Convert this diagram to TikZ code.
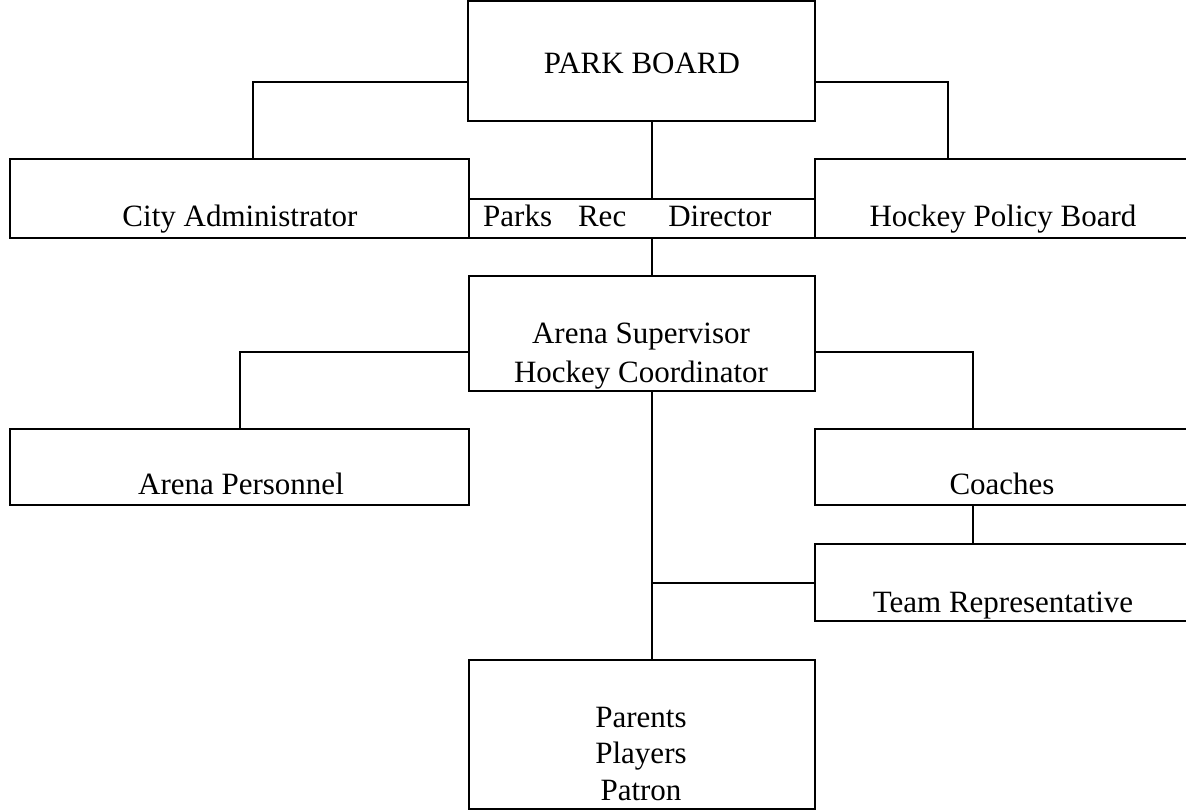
\documentclass[tikz,border=0pt]{standalone}
\usepackage{fontspec}
\setmainfont{Liberation Serif}
\begin{document}
\begin{tikzpicture}[x=1pt,y=-1pt,
  box/.style={draw=black,line width=2pt,inner sep=0pt,rectangle},
  conn/.style={draw=black,line width=2pt},
  txt/.style={inner sep=0pt,font=\fontsize{31}{37}\selectfont}]
\useasboundingbox (0,0) rectangle (1186,810);
\clip (0,0) rectangle (1186,810);
% boxes
\node[box,minimum width=347pt,minimum height=120pt] (pb) at (641.5,61) {};
\node[box,minimum width=459pt,minimum height=79pt] (ca) at (239.5,198.5) {};
\node[box,minimum width=346pt,minimum height=39pt] (pr) at (642,218.5) {};
\node[box,minimum width=380pt,minimum height=79pt] (hpb) at (1005,198.5) {};
\node[box,minimum width=346pt,minimum height=115pt] (as) at (642,333.5) {};
\node[box,minimum width=459pt,minimum height=76pt] (ap) at (239.5,467) {};
\node[box,minimum width=380pt,minimum height=76pt] (co) at (1005,467) {};
\node[box,minimum width=380pt,minimum height=77pt] (tr) at (1005,582.5) {};
\node[box,minimum width=346pt,minimum height=149pt] (pa) at (642,734.5) {};
% texts
\node[txt,anchor=base] (tpb) at (642,74) {PARK BOARD};
\node[txt,anchor=base] (tca) at (240,227) {City Administrator};
\node[txt,anchor=base west] (tpr) at (483,227) {Parks\hspace{26pt}Rec\hspace{42pt}Director};
\node[txt,anchor=base] (thpb) at (1003,227) {Hockey Policy Board};
\node[txt,anchor=base] (tas1) at (641,343) {Arena Supervisor};
\node[txt,anchor=base] (tas2) at (641,382) {Hockey Coordinator};
\node[txt,anchor=base] (tap) at (241,494) {Arena Personnel};
\node[txt,anchor=base] (tco) at (1002,494) {Coaches};
\node[txt,anchor=base] (ttr) at (1003,612) {Team Representative};
\node[txt,anchor=base] (tpa1) at (641,727) {Parents};
\node[txt,anchor=base] (tpa2) at (641,763) {Players};
\node[txt,anchor=base] (tpa3) at (641,800) {Patron};
% connectors
\coordinate (j1) at (253,82);
\coordinate (j2) at (948,82);
\coordinate (j3) at (240,352);
\coordinate (j4) at (973,352);
\coordinate (j5) at (652,583);
\draw[conn] (pb.west |- j1) -- (j1) -- (j1 |- ca.north);
\draw[conn] (pb.east |- j2) -- (j2) -- (j2 |- hpb.north);
\draw[conn] (pb.south -| 652,0) -- (pr.north -| 652,0);
\draw[conn] (pr.south -| 652,0) -- (as.north -| 652,0);
\draw[conn] (as.west |- j3) -- (j3) -- (j3 |- ap.north);
\draw[conn] (as.east |- j4) -- (j4) -- (j4 |- co.north);
\draw[conn] (co.south -| 973,0) -- (tr.north -| 973,0);
\draw[conn] (as.south -| 652,0) -- (pa.north -| 652,0);
\draw[conn] (j5) -- (j5 -| tr.west);
\end{tikzpicture}
\end{document}
